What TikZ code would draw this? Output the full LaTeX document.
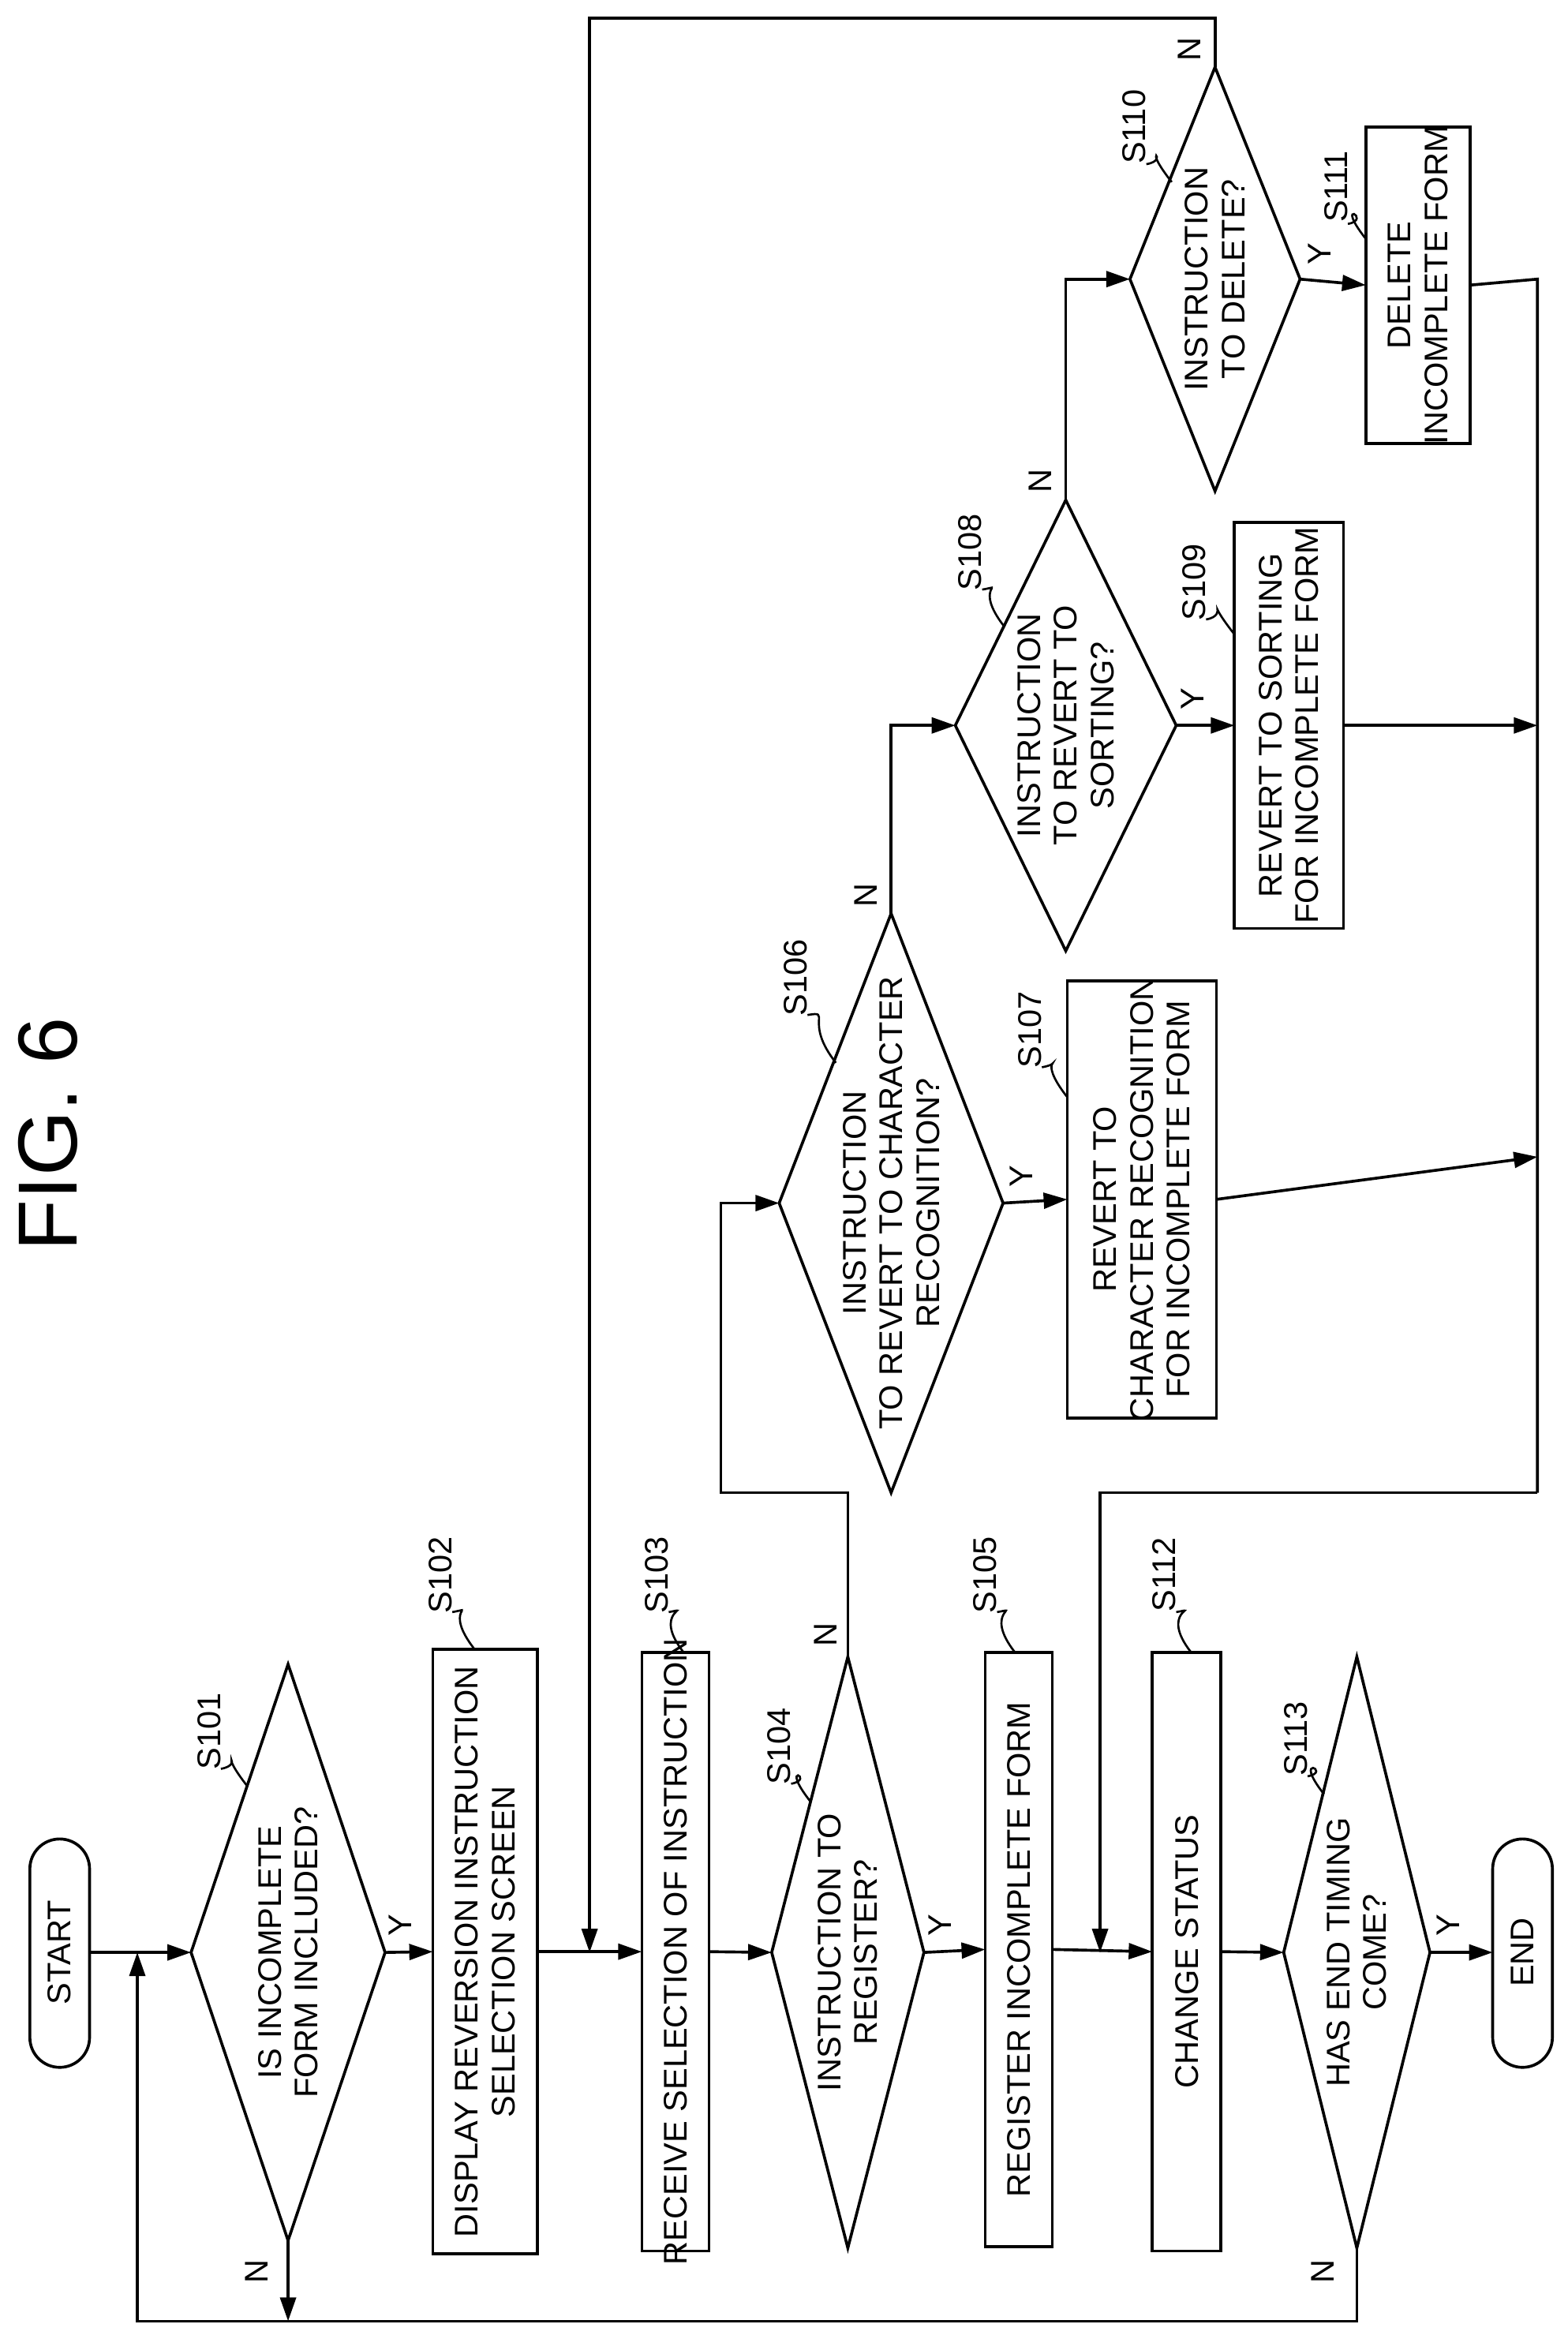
\documentclass[tikz,border=0pt]{standalone}
\usepackage{fontspec}
\setmainfont{Liberation Sans}
\usetikzlibrary{arrows.meta}
\begin{document}
\begin{tikzpicture}[x=0.02cm,y=-0.02cm,line width=1.1pt,
  txt/.style={rotate=90,align=center,font=\fontsize{12.5}{14}\selectfont,inner sep=0pt},
  lab/.style={rotate=90,font=\fontsize{12.5}{14}\selectfont,inner sep=0pt},
  arr/.style={-{Triangle[length=9pt,width=6pt]}}]
\useasboundingbox (0,0) rectangle (1050,1567);
\newcommand\dia[6]{%
 \draw (#2,#3-#5) -- (#2+#4,#3) -- (#2,#3+#5) -- (#2-#4,#3) -- cycle;
 \coordinate (#1t) at (#2,#3-#5); \coordinate (#1r) at (#2+#4,#3);
 \coordinate (#1b) at (#2,#3+#5); \coordinate (#1l) at (#2-#4,#3);
 \node[txt] (#1) at (#2,#3) {#6};}
\newcommand\bx[6]{%
 \draw (#2,#3) rectangle (#4,#5);
 \coordinate (#1l) at (#2,{(#3+#5)/2}); \coordinate (#1r) at (#4,{(#3+#5)/2});
 \node[txt] (#1) at ({(#2+#4)/2},{(#3+#5)/2}) {#6};}
\newcommand\lead[5]{%
 \node[lab] (#1) at (#2,#3) {#1};
 \draw[line width=0.8pt] (#2+8,#3+25) .. controls (#2+25,#3+22) and (#4-22,#5-28) .. (#4,#5);}
% title
\node[rotate=90,font=\fontsize{32}{36}\selectfont] (fig) at (32,760) {FIG. 6};
% start / end
\draw[rounded corners=0.4cm] (20,1232) rectangle (60,1385);
\node[txt] (start) at (40,1308) {START};
\coordinate (startr) at (60,1308);
\draw[rounded corners=0.4cm] (1000,1232) rectangle (1040,1385);
\node[txt] (end) at (1020,1308) {END};
\coordinate (endl) at (1000,1308);
% main nodes
\dia{a}{193}{1308}{65}{193}{IS INCOMPLETE\\FORM INCLUDED?}
\bx{b}{290}{1105}{360}{1510}{DISPLAY REVERSION INSTRUCTION\\SELECTION SCREEN}
\bx{c}{430}{1107}{475}{1508}{RECEIVE SELECTION OF INSTRUCTION}
\dia{d}{568}{1308}{51}{198}{INSTRUCTION TO\\REGISTER?}
\bx{e}{660}{1107}{705}{1505}{REGISTER INCOMPLETE FORM}
\bx{f}{772}{1107}{818}{1508}{CHANGE STATUS}
\dia{g}{909}{1308}{49}{198}{HAS END TIMING\\COME?}
\dia{h}{597}{806}{75}{194}{INSTRUCTION\\TO REVERT TO CHARACTER\\RECOGNITION?}
\bx{i}{715}{657}{815}{950}{REVERT TO\\CHARACTER RECOGNITION\\FOR INCOMPLETE FORM}
\dia{j}{714}{486}{74}{151}{INSTRUCTION\\TO REVERT TO\\SORTING?}
\bx{k}{827}{350}{900}{622}{REVERT TO SORTING\\FOR INCOMPLETE FORM}
\dia{m}{814}{187}{57}{142}{INSTRUCTION\\TO DELETE?}
\bx{n}{915}{85}{985}{297}{DELETE\\INCOMPLETE FORM}
% coordinates
\coordinate (loopA) at (92,1308);
\coordinate (loopB) at (395,1308);
\coordinate (loopC) at (737,1308);
\coordinate (bus1) at (1030,187);
\coordinate (bus2) at (1030,1000);
% connectors main row
\draw[arr] (startr) -- (al);
\draw[arr] (ar) -- (bl);
\draw[arr] (br) -- (cl);
\draw[arr] (cr) -- (dl);
\draw[arr] (dr) -- (el);
\draw[arr] (er) -- (fl);
\draw[arr] (fr) -- (gl);
\draw[arr] (gr) -- (endl);
% N loops
\draw[arr] (ab) -- (193,1555);
\draw[arr] (gb) -- (909,1555) -- (92,1555) -- (loopA);
\draw[arr] (dt) -- (568,1000) -- (483,1000) |- (hl);
\draw[arr] (ht) |- (jl);
\draw[arr] (jt) |- (ml);
\draw[arr] (mt) -- (814,12) -| (loopB);
% Y branches
\draw[arr] (hr) -- (il);
\draw[arr] (jr) -- (kl);
\draw[arr] (mr) -- (nl);
\draw[arr] (ir) -- (1030,775);
\draw[arr] (kr) -- (1030,486);
\draw (nr) -- (bus1) -- (bus2);
\draw[arr] (bus2) -- (737,1000) -- (loopC);
% Y/N labels
\node[lab] (ya) at (268,1290) {Y};
\node[lab] (na) at (172,1522) {N};
\node[lab] (yd) at (630,1290) {Y};
\node[lab] (nd) at (553,1095) {N};
\node[lab] (yh) at (684,788) {Y};
\node[lab] (nh) at (580,600) {N};
\node[lab] (yj) at (799,468) {Y};
\node[lab] (nj) at (697,322) {N};
\node[lab] (ym) at (884,170) {Y};
\node[lab] (nm) at (797,33) {N};
\node[lab] (yg) at (970,1290) {Y};
\node[lab] (ng) at (886,1522) {N};
% step labels
\lead{S101}{140}{1160}{166}{1197}
\lead{S102}{295}{1055}{318}{1105}
\lead{S103}{440}{1055}{458}{1107}
\lead{S104}{522}{1170}{543}{1207}
\lead{S105}{660}{1055}{680}{1107}
\lead{S106}{533}{655}{560}{712}
\lead{S107}{690}{690}{715}{735}
\lead{S108}{650}{370}{673}{420}
\lead{S109}{800}{390}{827}{425}
\lead{S110}{760}{85}{785}{122}
\lead{S111}{895}{125}{915}{160}
\lead{S112}{780}{1055}{798}{1107}
\lead{S113}{868}{1165}{887}{1202}
\end{tikzpicture}
\end{document}
